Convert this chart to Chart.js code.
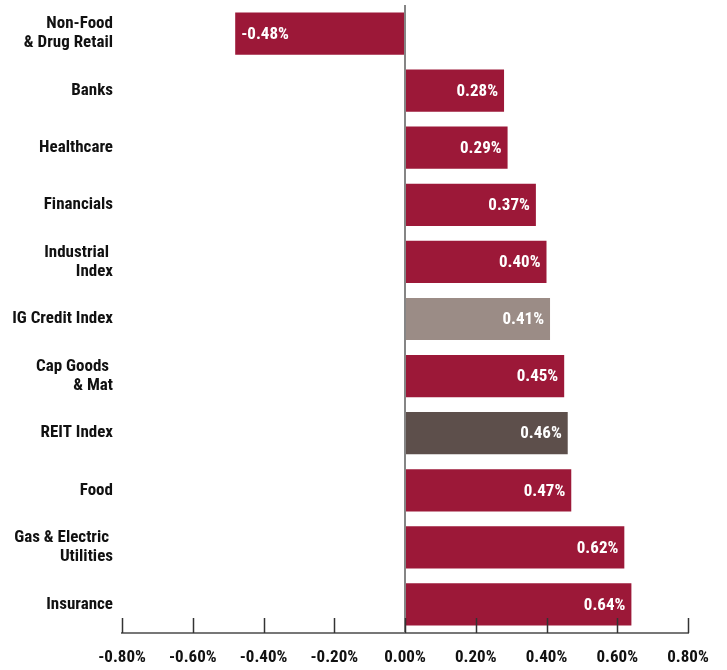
<!DOCTYPE html>
<html lang="en">
  <head>
    <meta charset="UTF-8" />
    <meta name="viewport" content="width=device-width, initial-scale=1.0" />
    <script src="https://cdn.jsdelivr.net/npm/chart.js@4.4.1/dist/chart.umd.min.js"></script>
    <title>Sector returns</title>
    <style>
      html, body { margin: 0; padding: 0; background: #fff; }
      #box { width: 727px; height: 670px; }
    </style>
  </head>
  <body>
    <div id="box"><canvas id="myChart"></canvas></div>

    <script>
      var sectors = [
        ["Non-Food", "& Drug Retail"],
        "Banks",
        "Healthcare",
        "Financials",
        ["Industrial ", "Index"],
        "IG Credit Index",
        ["Cap Goods ", "& Mat"],
        "REIT Index",
        "Food",
        ["Gas & Electric ", "Utilities"],
        "Insurance"
      ];
      var returns = [-0.48, 0.28, 0.29, 0.37, 0.40, 0.41, 0.45, 0.46, 0.47, 0.62, 0.64];
      var barColors = ["#9c1838", "#9c1838", "#9c1838", "#9c1838", "#9c1838",
        "#9b8c86", "#9c1838", "#5d4f4b", "#9c1838", "#9c1838", "#9c1838"];
      var xMin = -0.8, xMax = 0.8, xStep = 0.2;

      var font = '"Roboto Condensed", "Open Sans", sans-serif';

      // zero line, upward ticks on the x axis, value labels in the bars
      var extras = {
        id: "extras",
        afterDatasetsDraw: function (chart) {
          var ctx = chart.ctx;
          var xs = chart.scales.x;
          var area = chart.chartArea;
          ctx.save();

          var zx = xs.getPixelForValue(0);
          ctx.strokeStyle = "#858585";
          ctx.lineWidth = 2;
          ctx.beginPath();
          ctx.moveTo(zx, area.top);
          ctx.lineTo(zx, area.bottom);
          ctx.stroke();

          ctx.strokeStyle = "#333";
          ctx.lineWidth = 1.5;
          for (var i = 0; i < xs.ticks.length; i++) {
            var tx = Math.round(xs.getPixelForTick(i)) + 0.5;
            ctx.beginPath();
            ctx.moveTo(tx, area.bottom - 15);
            ctx.lineTo(tx, area.bottom);
            ctx.stroke();
          }

          var meta = chart.getDatasetMeta(0);
          ctx.fillStyle = "#fff";
          ctx.font = "bold 17px " + font;
          ctx.fontStretch = "condensed";
          ctx.textBaseline = "middle";
          meta.data.forEach(function (bar, j) {
            var v = returns[j];
            var txt = v.toFixed(2) + "%";
            if (v >= 0) {
              ctx.textAlign = "right";
              ctx.fillText(txt, bar.x - 6, bar.y + 1);
            } else {
              ctx.textAlign = "left";
              ctx.fillText(txt, bar.x + 6, bar.y + 1);
            }
          });
          ctx.restore();
        }
      };

      var c = new Chart("myChart", {
        type: "bar",
        data: {
          labels: sectors,
          datasets: [
            {
              data: returns,
              backgroundColor: barColors,
              borderWidth: 0,
              barPercentage: 0.74,
              categoryPercentage: 1.0
            }
          ]
        },
        plugins: [extras],
        options: {
          indexAxis: "y",
          responsive: true,
          maintainAspectRatio: false,
          animation: false,
          layout: { padding: { top: 5, right: 39, bottom: 2, left: 0 } },
          plugins: {
            legend: { display: false },
            tooltip: { enabled: false }
          },
          scales: {
            x: {
              min: xMin,
              max: xMax,
              grid: { display: false, drawTicks: false },
              border: { display: true, color: "#777", width: 2 },
              afterFit: function (scale) {
                scale.height = 35;
                scale.paddingLeft = 0;
                scale.paddingRight = 0;
              },
              ticks: {
                stepSize: xStep,
                padding: 15,
                maxRotation: 0,
                color: "#111",
                font: { family: font, size: 17, weight: "bold" },
                callback: function (value) {
                  return value.toFixed(2) + "%";
                }
              }
            },
            y: {
              grid: { display: false, drawTicks: false },
              border: { display: false },
              afterFit: function (scale) {
                scale.width = 122;
                scale.paddingTop = 0;
                scale.paddingBottom = 0;
              },
              ticks: {
                padding: 9,
                color: "#111",
                font: { family: font, size: 17, weight: "bold", lineHeight: 1.1 }
              }
            }
          }
        }
      });
    </script>
  </body>
</html>
